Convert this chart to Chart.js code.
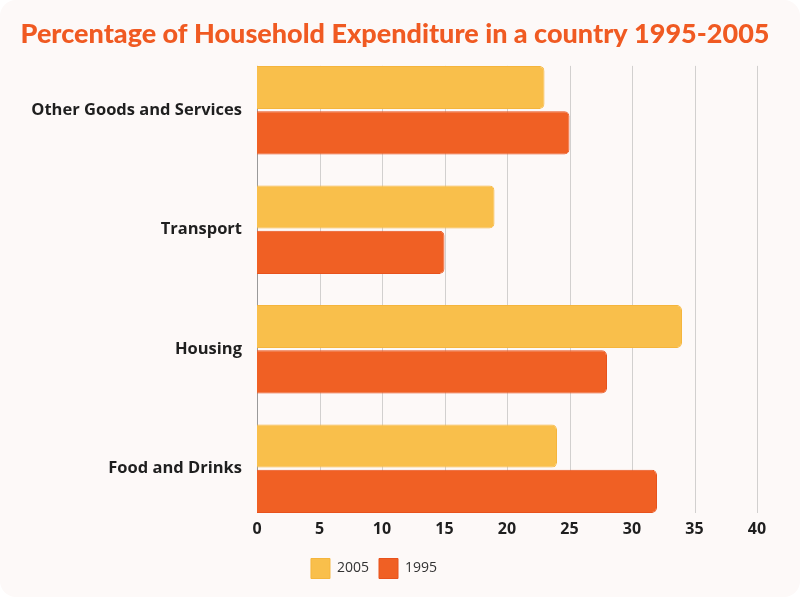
<!DOCTYPE html>
<html>
<head>
<meta charset="utf-8">
<script src="https://cdn.jsdelivr.net/npm/chart.js"></script>
<style>
  html, body { margin: 0; padding: 0; background: #ffffff; }
  #card { width: 800px; height: 597px; background: #fdf9f8; border-radius: 16px; overflow: hidden; }
</style>
</head>
<body>
<div id="card"><canvas id="chart" width="800" height="597"></canvas></div>
<script>
// chart data
const categories = ["Other Goods and Services", "Transport", "Housing", "Food and Drinks"];
const values2005 = [23, 19, 34, 24];
const values1995 = [25, 15, 28, 32];
const xTicks = [0, 5, 10, 15, 20, 25, 30, 35, 40];

// grid lines only span the bars, like the original
const gridPlugin = {
  id: "gridPlugin",
  beforeDatasetsDraw(chart) {
    const ctx = chart.ctx;
    const x = chart.scales.x;
    const first = chart.getDatasetMeta(0).data[0];
    const last = chart.getDatasetMeta(1).data[categories.length - 1];
    const top = first.y - first.height / 2;
    const bottom = last.y + last.height / 2;
    ctx.save();
    xTicks.forEach((t) => {
      const px = Math.round(x.getPixelForValue(t)) + 0.5;
      ctx.strokeStyle = t === 0 ? "#9a9a9a" : "#d2d0cf";
      ctx.lineWidth = 1;
      ctx.beginPath();
      ctx.moveTo(px, top);
      ctx.lineTo(px, bottom);
      ctx.stroke();
    });
    ctx.restore();
  },
  afterLayout(chart) {
    // legend sits a bit left of centre, title a bit right of the plot centre
    chart.legend.right -= 9;
    chart.titleBlock.right = 790;
  }
};

new Chart(document.getElementById("chart"), {
  type: "bar",
  data: {
    labels: categories,
    datasets: [
      {
        label: "2005",
        data: values2005,
        backgroundColor: "#f9bf4b",
        borderColor: "#f5b53c",
        borderWidth: 1,
        borderRadius: 5,
        borderSkipped: "start",
        categoryPercentage: 0.76,
        barPercentage: 0.95
      },
      {
        label: "1995",
        data: values1995,
        backgroundColor: "#f06024",
        borderColor: "#e8521c",
        borderWidth: 1,
        borderRadius: 5,
        borderSkipped: "start",
        categoryPercentage: 0.76,
        barPercentage: 0.95
      }
    ]
  },
  options: {
    indexAxis: "y",
    responsive: false,
    animation: false,
    layout: { padding: { left: 0, right: 43, bottom: 8.5 } },
    scales: {
      x: {
        min: 0,
        max: 40,
        afterBuildTicks: (s) => { s.ticks = xTicks.map((v) => ({ value: v })); },
        afterFit: (s) => { s.height = 20; },
        grid: { display: false, drawTicks: false },
        border: { display: false },
        ticks: {
          mirror: true,
          padding: -11,
          color: "#1f1f1f",
          font: { family: "Open Sans", size: 16, weight: "bold" }
        }
      },
      y: {
        afterFit: (s) => { s.width = 257; },
        grid: { display: false, drawTicks: false },
        border: { display: false },
        ticks: {
          padding: 15,
          color: "#1f1f1f",
          font: { family: "Open Sans", size: 16.5, weight: "bold" }
        }
      }
    },
    plugins: {
      title: {
        display: true,
        text: "Percentage of Household Expenditure in a country 1995-2005",
        color: "#f05a22",
        font: { family: "Lato", size: 27, weight: "900" },
        padding: { top: 18, bottom: 0 }
      },
      legend: {
        position: "bottom",
        labels: {
          boxWidth: 19,
          boxHeight: 20,
          padding: 10,
          color: "#333333",
          font: { family: "Open Sans", size: 14 }
        }
      },
      tooltip: { enabled: false }
    }
  },
  plugins: [gridPlugin]
});
</script>
</body>
</html>
